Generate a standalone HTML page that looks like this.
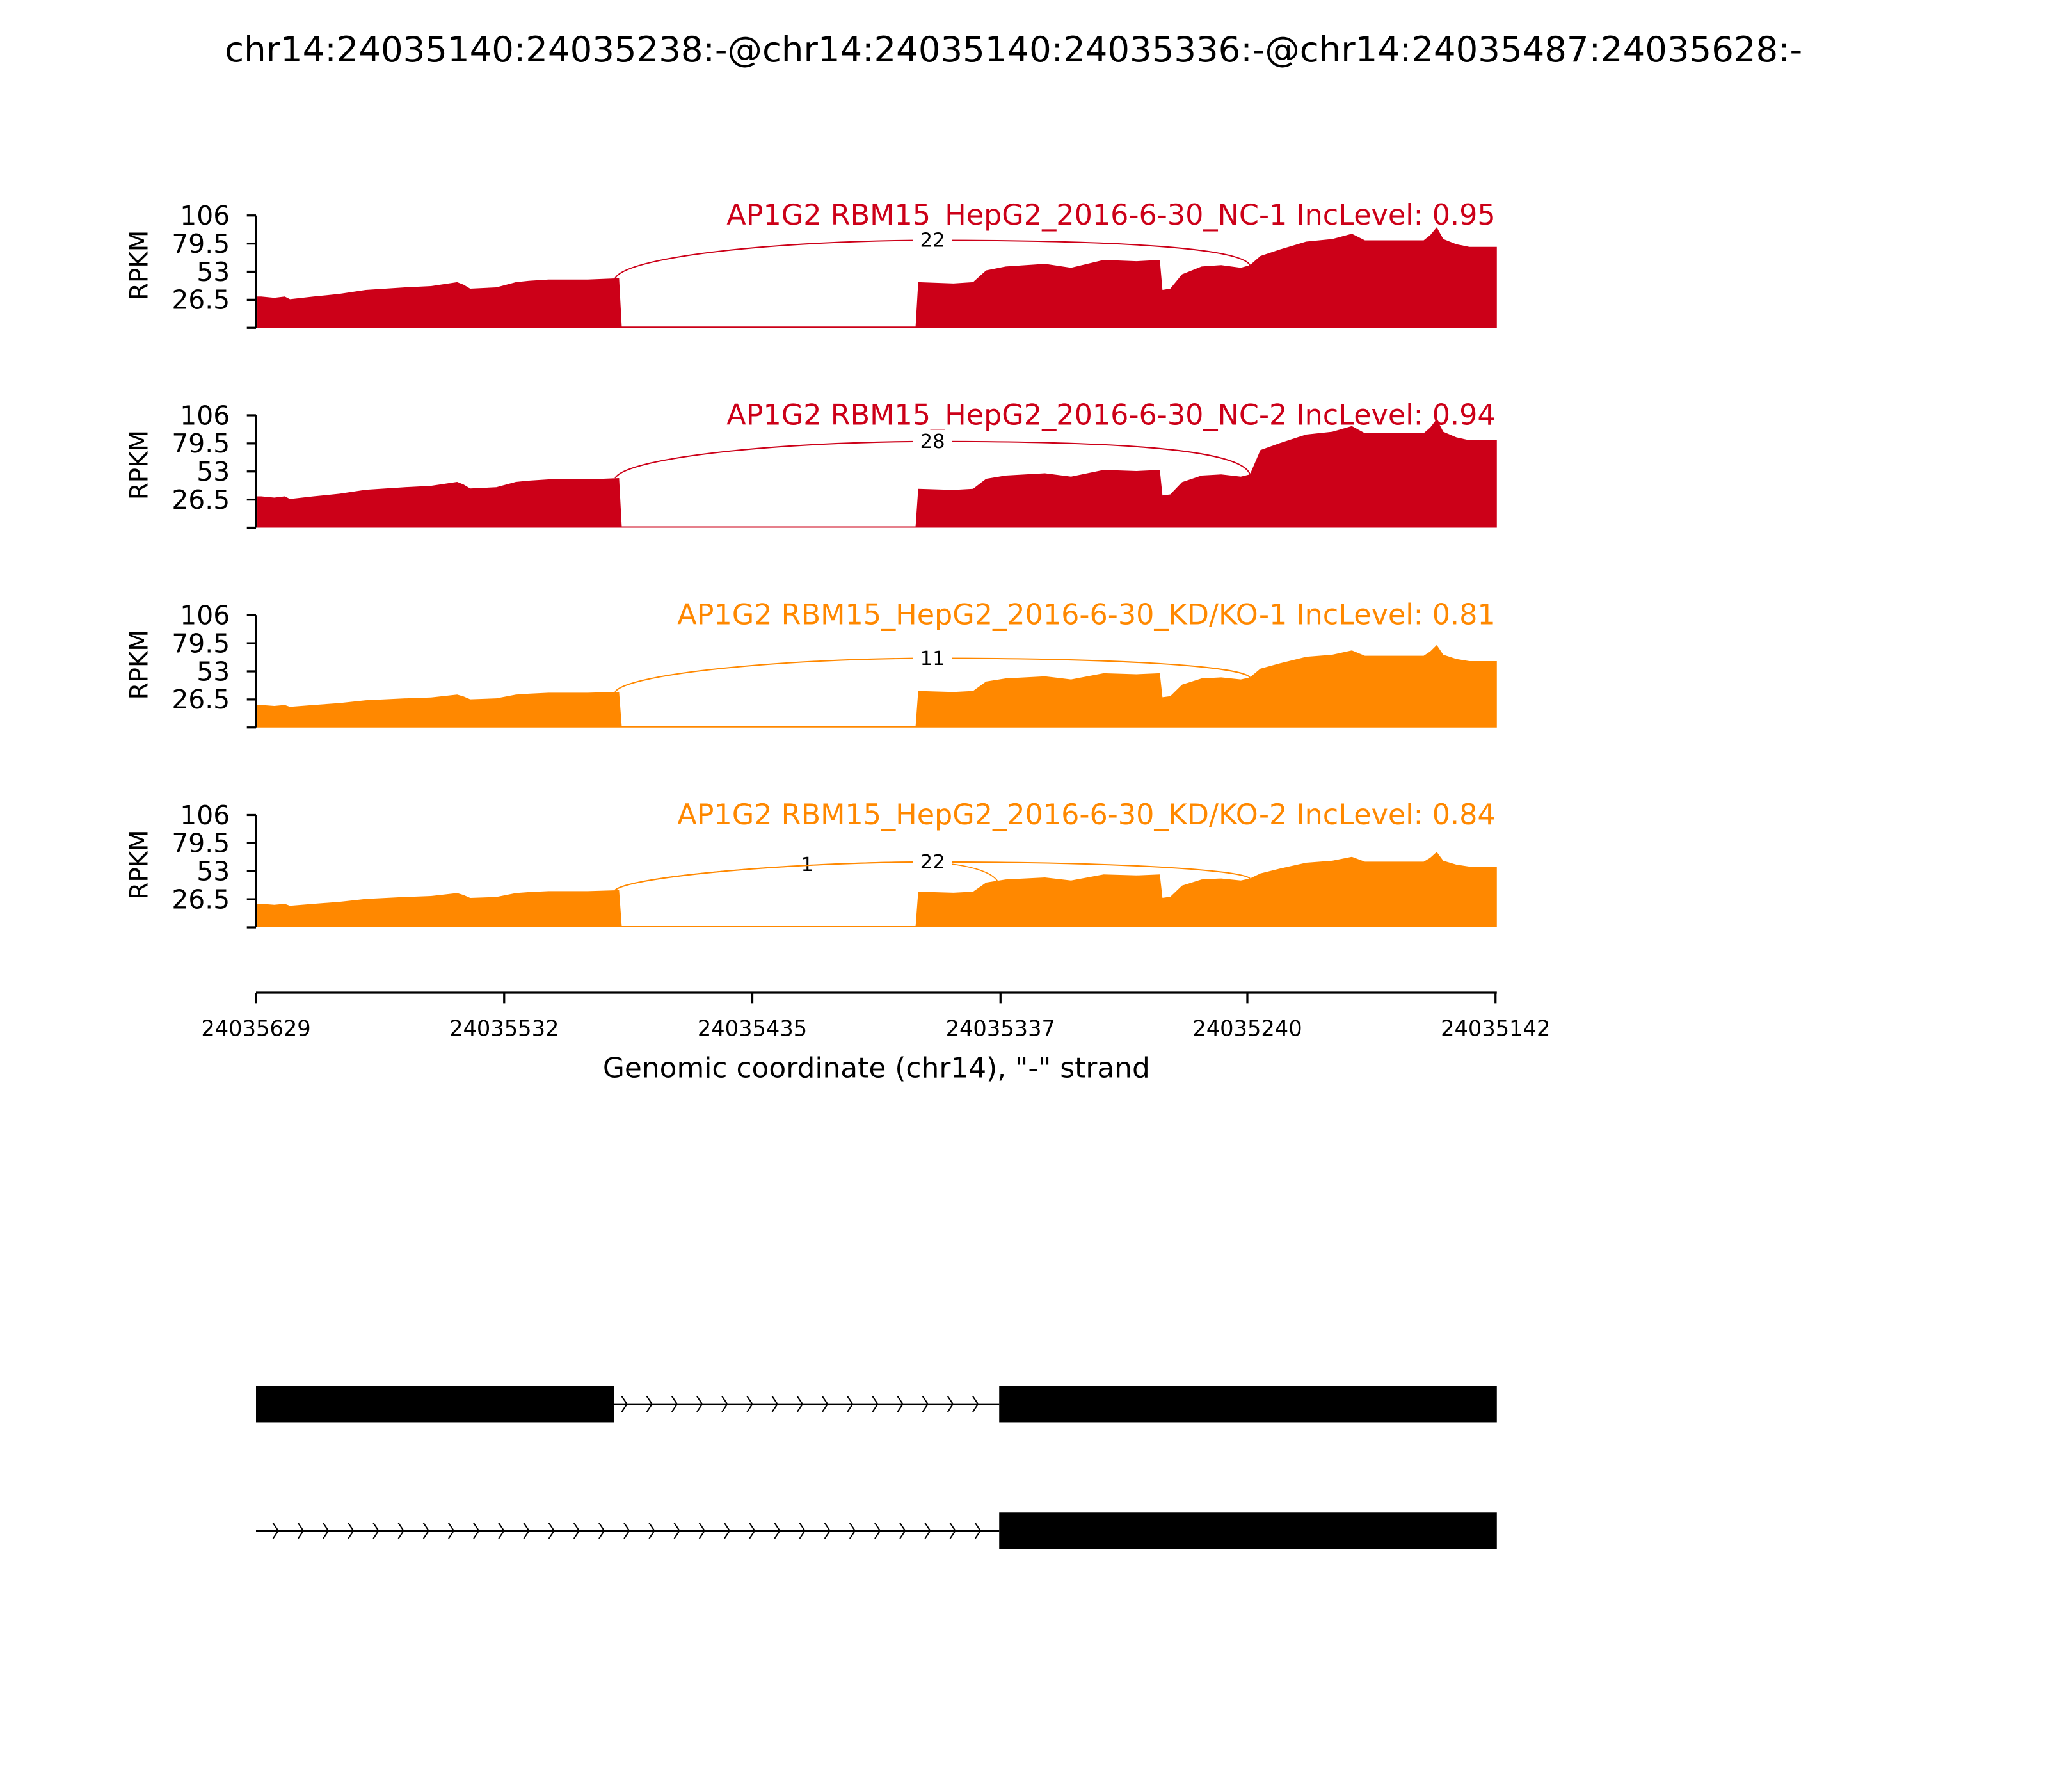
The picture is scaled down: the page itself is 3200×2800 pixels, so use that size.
<!DOCTYPE html>
<html><head><meta charset="utf-8"><style>
html,body{margin:0;padding:0;background:#fff;}
svg{display:block;}
text{font-family:"DejaVu Sans","Liberation Sans",sans-serif;}
</style></head><body>
<svg id="s" xmlns="http://www.w3.org/2000/svg" width="3200" height="2800" viewBox="0 0 1568 1372">
<rect width="1568" height="1372" fill="#fff"/>
<text x="776" y="47" font-size="26.7" text-anchor="middle">chr14:24035140:24035238:-@chr14:24035140:24035336:-@chr14:24035487:24035628:-</text>
<g id="panels"></g>
<g stroke="#000" stroke-width="1.6">
<line x1="196" y1="760" x2="1146" y2="760"/>
<line x1="196" y1="760" x2="196" y2="768"/><line x1="386" y1="760" x2="386" y2="768"/>
<line x1="576" y1="760" x2="576" y2="768"/><line x1="766" y1="760" x2="766" y2="768"/>
<line x1="955" y1="760" x2="955" y2="768"/><line x1="1145" y1="760" x2="1145" y2="768"/>
</g>
<g font-size="16.5" text-anchor="middle">
<text x="196" y="793">24035629</text><text x="386" y="793">24035532</text>
<text x="576" y="793">24035435</text><text x="766" y="793">24035337</text>
<text x="955" y="793">24035240</text><text x="1145" y="793">24035142</text>
</g>
<text x="671" y="825" font-size="21.5" text-anchor="middle">Genomic coordinate (chr14), "-" strand</text>
<rect x="196" y="1061" width="274" height="28" fill="#000"/>
<rect x="765" y="1061" width="381" height="28" fill="#000"/>
<line x1="470" y1="1075" x2="765" y2="1075" stroke="#000" stroke-width="1.2"/>
<rect x="765" y="1158" width="381" height="28" fill="#000"/>
<line x1="196" y1="1172" x2="765" y2="1172" stroke="#000" stroke-width="1.2"/>
<g id="chev" fill="none" stroke="#000" stroke-width="1"></g>
</svg>
<script>
const NS="http://www.w3.org/2000/svg";
const P=document.getElementById('panels');
function el(t,a,p){const e=document.createElementNS(NS,t);for(const k in a)e.setAttribute(k,a[k]);(p||P).appendChild(e);return e;}
const L=[[197,24],[200,24],[210,23],[218,24],[222,22],[240,24],[260,26],[280,29],[310,31],[330,32],[350,35],[355,33],[360,30],[380,31],[395,35],[405,36],[420,37],[450,37],[474,38]];
const M=[[703,35],[730,34],[745,35],[755,44],[770,47],[800,49],[820,46],[845,52],[870,51],[888,52],[890,29],[896,30],[905,41],[920,47],[935,48],[950,46],[957,48]];
const R=[[965,55],[980,60],[1000,66],[1020,68],[1035,72],[1045,67],[1090,67],[1095,71],[1100,77],[1105,68],[1115,64],[1125,62],[1146,62]];
const panels=[
 {top:165,col:"#cc0018",lab:"AP1G2 RBM15_HepG2_2016-6-30_NC-1 IncLevel: 0.95",f:[1,1,1],arcs:[[957,19,"22",714]]},
 {top:318,col:"#cc0018",lab:"AP1G2 RBM15_HepG2_2016-6-30_NC-2 IncLevel: 0.94",f:[1.0,0.85,1.08],arcs:[[957,20,"28",714]]},
 {top:471,col:"#ff8800",lab:"AP1G2 RBM15_HepG2_2016-6-30_KD/KO-1 IncLevel: 0.81",f:[0.72,0.8,0.82],arcs:[[957,33,"11",714]]},
 {top:624,col:"#ff8800",lab:"AP1G2 RBM15_HepG2_2016-6-30_KD/KO-2 IncLevel: 0.84",f:[0.75,0.78,0.75],arcs:[[765,38,"1",618],[957,36,"22",714]]}
];
panels.forEach(p=>{
 const b=p.top+86;
 let d="M197,"+b;
 L.forEach(q=>d+=" L"+q[0]+","+(b-q[1]*p.f[0]));
 d+=" L476,"+(b-1)+" L701,"+(b-1);
 M.forEach(q=>d+=" L"+q[0]+","+(b-q[1]*p.f[1]));
 R.forEach(q=>d+=" L"+q[0]+","+(b-q[1]*p.f[2]));
 d+=" L1146,"+b+" Z";
 el('path',{d:d,fill:p.col});
 el('line',{x1:196,y1:p.top,x2:196,y2:b,stroke:"#000","stroke-width":1.6});
 const ticks=[["106",0],["79.5",21.5],["53",43],["26.5",64.5],["",86]];
 ticks.forEach(t=>{el('line',{x1:189,y1:p.top+t[1],x2:196,y2:p.top+t[1],stroke:"#000","stroke-width":1.6});
  if(t[0]){const tx=el('text',{x:176,y:p.top+t[1]+7,"font-size":20,"text-anchor":"end"});tx.textContent=t[0];}});
 const r=el('text',{x:0,y:0,"font-size":19,"text-anchor":"middle",transform:"translate(113,"+(p.top+38)+") rotate(-90)"});r.textContent="RPKM";
 const lt=el('text',{x:1145,y:p.top+7,"font-size":21.8,"text-anchor":"end",fill:p.col});lt.textContent=p.lab;
 const yl=b-L[L.length-1][1]*p.f[0];
 p.arcs.forEach(a=>{
  const xe=a[0];
  const ye= xe===957 ? b-48*p.f[1] : b-35*p.f[1];
  const ay = p.top + a[1];
  if(xe===957)
   el('path',{d:"M471,"+yl+" C480,"+(ay+12)+" 600,"+(ay)+" 714,"+ay+" C 860,"+ay+" 950,"+(ay+6)+" "+xe+","+ye,fill:"none",stroke:p.col,"stroke-width":1});
  else
   el('path',{d:"M471,"+yl+" C490,"+(ay+6)+" 640,"+(ay-2)+" 700,"+(ay-2)+" C 740,"+(ay-2)+" 765,"+(ay+6)+" "+xe+","+(ye-4),fill:"none",stroke:p.col,"stroke-width":0.8});
  el('rect',{x:a[3]-15,y:ay-9,width:30,height:18,fill:"#fff"});
  const t=el('text',{x:a[3],y:ay+5,"font-size":15,"text-anchor":"middle"});t.textContent=a[2];
 });
});
const C=document.getElementById('chev');
function chev(x,y){el('path',{d:"M"+(x-2)+","+(y-6)+" L"+(x+2)+","+y+" L"+(x-2)+","+(y+6)},C);}
for(let x=478;x<765;x+=19.2)chev(x,1075);
for(let x=211;x<765;x+=19.2)chev(x,1172);
</script>
</body></html>
